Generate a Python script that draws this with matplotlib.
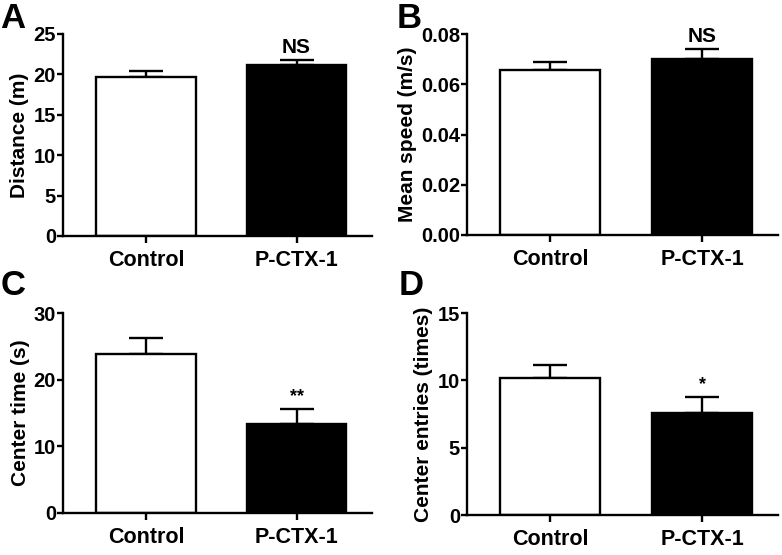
import numpy as np
import matplotlib
matplotlib.use("Agg")
from matplotlib import pyplot as plt

plt.rcParams['font.family'] = ['Liberation Sans', 'DejaVu Sans']
plt.rcParams['font.weight'] = 'bold'

# Data
groups = ['Control', 'P-CTX-1']
distance = [19.7, 21.1]
distance_err = [0.7, 0.65]
speed = [0.0657, 0.0699]
speed_err = [0.0032, 0.0040]
center_time = [23.85, 13.3]
center_time_err = [2.45, 2.25]
center_entries = [10.2, 7.55]
center_entries_err = [0.95, 1.2]

panels = [
    ('A', distance, distance_err, 'Distance (m)', [0, 5, 10, 15, 20, 25], 25, '{:d}', 'NS'),
    ('B', speed, speed_err, 'Mean speed (m/s)', [0, 0.02, 0.04, 0.06, 0.08], 0.08, '{:.2f}', 'NS'),
    ('C', center_time, center_time_err, 'Center time (s)', [0, 10, 20, 30], 30, '{:d}', '**'),
    ('D', center_entries, center_entries_err, 'Center entries (times)', [0, 5, 10, 15], 15, '{:d}', '*'),
]

positions = {
    'A': [0.0806, 0.5748, 0.395, 0.364],
    'B': [0.597, 0.5766, 0.398, 0.362],
    'C': [0.0806, 0.0757, 0.395, 0.360],
    'D': [0.597, 0.072, 0.398, 0.364],
}
# panel letter baseline anchor (px from top-left)
letter_xy = {'A': (0, 28), 'B': (397, 28), 'C': (1, 295), 'D': (399, 295)}

fig = plt.figure(figsize=(7.82, 5.55), dpi=100)

for letter, vals, errs, ylab, yticks, ymax, fmt, mark in panels:
    ax = fig.add_axes(positions[letter])
    x = np.arange(len(groups))
    ax.bar(x, vals, width=0.66, color=['white', 'black'], edgecolor='black', linewidth=1.7, zorder=2)
    ax.errorbar(x, vals, yerr=[[0, 0], errs], fmt='none', ecolor='black',
                elinewidth=1.7, capsize=12, capthick=1.7, zorder=1)
    ax.set_xlim(-0.55, 1.5)
    ax.set_ylim(0, ymax)
    ax.set_yticks(yticks)
    ax.set_yticklabels([fmt.format(int(t)) if fmt == '{:d}' else fmt.format(t) for t in yticks])
    ax.set_xticks(x)
    ax.set_xticklabels(groups, fontsize=15.5, fontweight='bold')
    ax.tick_params(axis='y', labelsize=14.5, width=1.7, length=4, direction='out', pad=1)
    ax.tick_params(axis='x', width=1.7, length=5, direction='out', pad=5)
    ax.set_ylabel(ylab, fontsize=15, fontweight='bold', labelpad=3)
    for side in ['top', 'right']:
        ax.spines[side].set_visible(False)
    for side in ['left', 'bottom']:
        ax.spines[side].set_linewidth(1.7)
    top = vals[1] + errs[1]
    if mark == 'NS':
        ax.text(1, top + ymax * 0.015, mark, ha='center', va='bottom', fontsize=15, fontweight='bold')
    else:
        ax.text(1, top + ymax * 0.02, mark, ha='center', va='bottom', fontsize=13, fontweight='bold')
    lx, ly = letter_xy[letter]
    fig.text(lx / 782, 1 - ly / 555, letter, fontsize=25, fontweight='bold', ha='left', va='baseline')

fig.savefig('out.png', dpi=100)
